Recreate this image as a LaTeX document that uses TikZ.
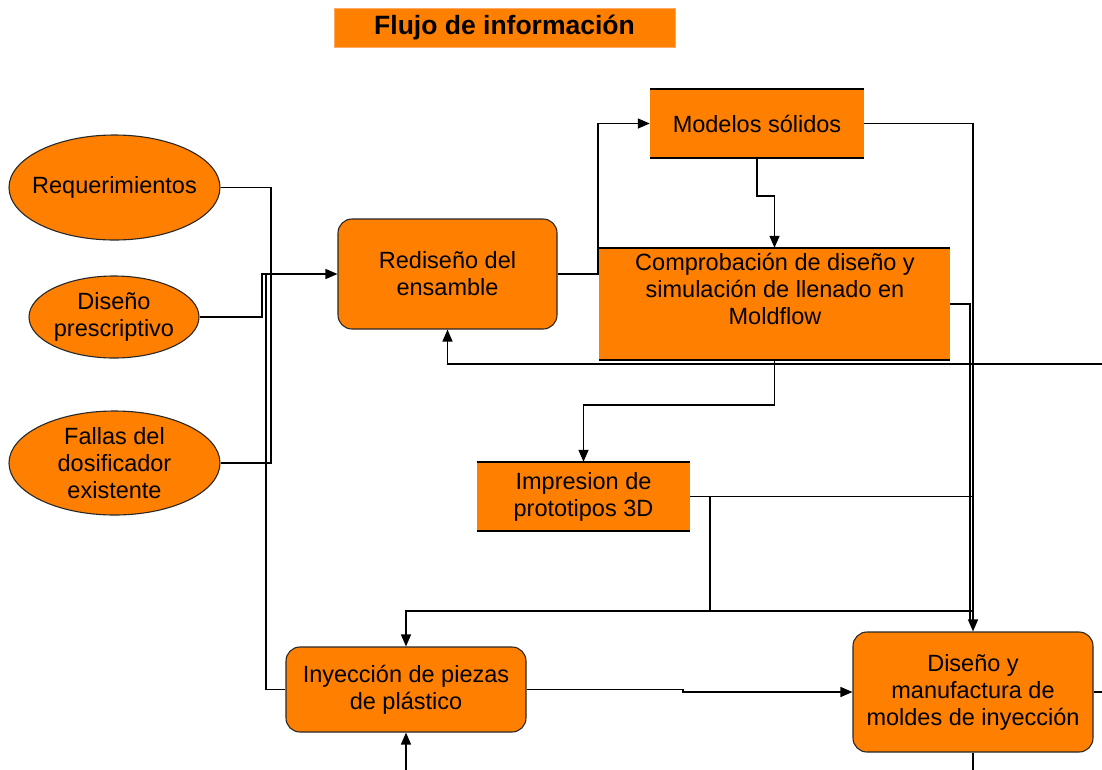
\documentclass[tikz,border=0pt]{standalone}
\usepackage{fontspec}
\setmainfont{Liberation Sans}
\usetikzlibrary{shapes.geometric,arrows.meta,calc}
\definecolor{fo}{RGB}{255,128,0}
\definecolor{edge}{RGB}{40,40,40}
\begin{document}
\begin{tikzpicture}[x=1pt,y=-1pt,
  txt/.style={font=\fontsize{23.5}{27}\selectfont,align=center,text=black},
  oval/.style={ellipse,fill=fo,draw=edge,line width=1.1pt,inner sep=0pt,txt},
  rbox/.style={rectangle,rounded corners=14pt,fill=fo,draw=edge,line width=1.1pt,inner sep=0pt,txt},
  fbox/.style={rectangle,fill=fo,draw=none,inner sep=0pt,txt},
  bar/.style={line width=1.6pt,draw=black},
  conn/.style={line width=1.4pt,draw=black},
  arr/.style={conn,-{Triangle[length=12pt,width=10pt]}}]
\useasboundingbox (0,0) rectangle (1102,769);
\clip (0,0) rectangle (1102,769);
% title
\node[fbox,draw={rgb,255:red,255;green,170;blue,100},line width=0.8pt,minimum width=341pt,minimum height=39pt,font=\fontsize{26.5}{30}\selectfont\bfseries] (title) at (504.5,27.5) {Flujo de información};
% ovals
\node[oval,inner xsep=-9pt,minimum width=211pt,minimum height=105pt] (req) at (114.5,187.5) {Requerimientos};
\node[oval,minimum width=170pt,minimum height=82pt] (dp) at (114,317) {Diseño\\prescriptivo};
\node[oval,inner ysep=-2pt,minimum width=211pt,minimum height=104pt] (fal) at (114.5,463) {Fallas del\\dosificador\\existente};
% boxes
\node[rbox,minimum width=219pt,minimum height=110pt] (red) at (447.5,274) {Rediseño del\\ensamble};
\node[fbox,minimum width=214pt,minimum height=69pt] (ms) at (757,123.5) {Modelos sólidos};
\node[fbox,minimum width=351pt,minimum height=112pt] (comp) at (774.5,304) {};
\node[txt,inner sep=0pt] (comptxt) at (775,289) {Comprobación de diseño y\\simulación de llenado en\\Moldflow};
\node[fbox,minimum width=213pt,minimum height=69pt] (imp) at (583.5,496.5) {Impresion de\\prototipos 3D};
\node[rbox,minimum width=240pt,minimum height=85pt] (iny) at (406,689.5) {Inyección de piezas\\de plástico};
\node[rbox,minimum width=240pt,minimum height=120pt] (dm) at (973,692) {Diseño y\\manufactura de\\moldes de inyección};
% top/bottom borders of flat boxes
\draw[bar] (ms.north west) -- (ms.north east);
\draw[bar] (ms.south west) -- (ms.south east);
\draw[bar] (comp.north west) -- (comp.north east);
\draw[bar] (comp.south west) -- (comp.south east);
\draw[bar] (imp.north west) -- (imp.north east);
\draw[bar] (imp.south west) -- (imp.south east);
% junction coordinates
\coordinate (jin) at (262,317);
\coordinate (jbr) at (710,497);
\coordinate (jfeed) at (973,611);
\coordinate (jcomp) at (970,622);
\coordinate (jright) at (1115,692);
\coordinate (jtop) at (1115,364);
\coordinate (bot1) at (406,775);
\coordinate (bot2) at (973,775);
% inputs
\draw[conn] (req.east) -| (271,463) -- (fal.east);
\draw[arr] (dp.east) -- (jin) |- (red.west);
\draw[conn] (iny.west) -| (266,274);
% main flow
\draw[arr] (red.east) -- (598,274) |- (ms.west);
\draw[arr] (ms.south) -- (757,196) -| (comp.north);
\draw[arr] (ms.east) -| (dm.north);
\draw[conn] (comp.east) -| (jcomp);
\draw[arr] (comp.south) -- (774.5,405) -| (imp.north);
\draw[conn] (imp.east) -- (973,496.5);
\draw[conn] (jbr) -- (710,611);
\draw[arr] (jfeed) -| (iny.north);
\draw[arr] (iny.east) -- (683,689.5) -- (683,692) -- (dm.west);
\draw[arr] (bot1) -- (iny.south);
\draw[conn] (dm.south) -- (bot2);
\draw[arr] (dm.east) -- (jright) -- (jtop) -| (red.south);
\end{tikzpicture}
\end{document}
